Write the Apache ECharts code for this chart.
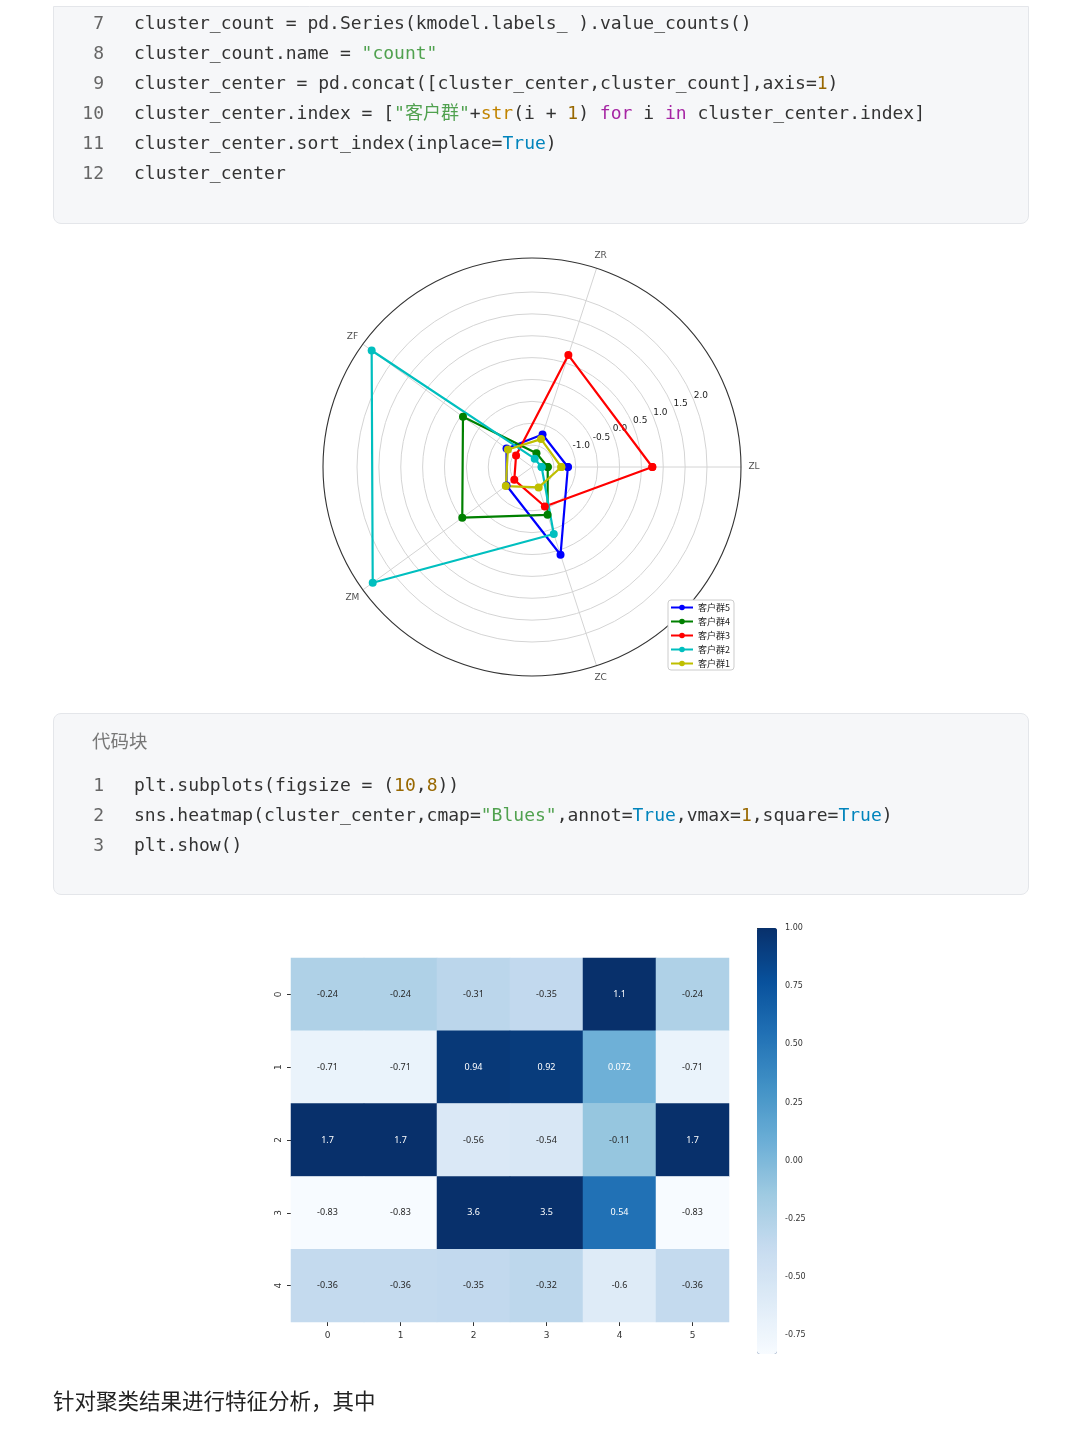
<!DOCTYPE html>
<html>
<head>
<meta charset="utf-8">
<script src="https://cdn.jsdelivr.net/npm/echarts@6/dist/echarts.min.js"></script>
<style>
  html, body { margin: 0; padding: 0; background: #fff; }
  body { width: 1080px; height: 1440px; position: relative; overflow: hidden; }
  #chart { position: absolute; left: 0; top: 0; width: 1080px; height: 1440px; }
  .code { position: absolute; left: 53px; width: 976px; background: #f6f7f9; border: 1px solid #e4e6ea; box-sizing: border-box; }
  #code1 { top: 6px; height: 218px; border-radius: 0 0 8px 8px; }
  #code2 { top: 713px; height: 182px; border-radius: 8px; }
  .title { position: absolute; left: 38px; top: 12px; font: 18.5px "Noto Sans CJK SC", sans-serif; color: #777; line-height: 28px; }
  .ln { position: absolute; height: 30px; line-height: 30px; font: 18px "DejaVu Sans Mono", monospace; white-space: pre; color: #333; }
  .num { left: 0; width: 50px; text-align: right; color: #666; }
  .src { left: 80px; }
  .s { color: #50a14f; } .n { color: #986801; } .k { color: #a626a4; } .b { color: #0184bc; } .f { color: #c18401; }
  .cjk { font-family: "Noto Sans CJK SC", sans-serif; line-height: 0; }
  #para { position: absolute; left: 53px; top: 1385px; font: 21.5px "Noto Sans CJK SC", sans-serif; color: #222; line-height: 30px; }
</style>
</head>
<body>
<div id="chart"></div>
<div class="code" id="code1">
  <div class="ln num" style="top:5px">7</div><div class="ln src" style="top:5px">cluster_count = pd.Series(kmodel.labels_ ).value_counts()</div>
  <div class="ln num" style="top:35px">8</div><div class="ln src" style="top:35px">cluster_count.name = <span class="s">"count"</span></div>
  <div class="ln num" style="top:65px">9</div><div class="ln src" style="top:65px">cluster_center = pd.concat([cluster_center,cluster_count],axis=<span class="n">1</span>)</div>
  <div class="ln num" style="top:95px">10</div><div class="ln src" style="top:95px">cluster_center.index = [<span class="s">"<span class="cjk">客户群</span>"</span>+<span class="f">str</span>(i + <span class="n">1</span>) <span class="k">for</span> i <span class="k">in</span> cluster_center.index]</div>
  <div class="ln num" style="top:125px">11</div><div class="ln src" style="top:125px">cluster_center.sort_index(inplace=<span class="b">True</span>)</div>
  <div class="ln num" style="top:155px">12</div><div class="ln src" style="top:155px">cluster_center</div>
</div>
<div class="code" id="code2">
  <div class="title">代码块</div>
  <div class="ln num" style="top:60px">1</div><div class="ln src" style="top:60px">plt.subplots(figsize = (<span class="n">10</span>,<span class="n">8</span>))</div>
  <div class="ln num" style="top:90px">2</div><div class="ln src" style="top:90px">sns.heatmap(cluster_center,cmap=<span class="s">"Blues"</span>,annot=<span class="b">True</span>,vmax=<span class="n">1</span>,square=<span class="b">True</span>)</div>
  <div class="ln num" style="top:120px">3</div><div class="ln src" style="top:120px">plt.show()</div>
</div>
<div id="para">针对聚类结果进行特征分析，其中</div>
<script>
// ---------- Radar (polar) data ----------
const radarAxes = ['ZL', 'ZR', 'ZF', 'ZM', 'ZC'];
const radarNames = ['客户群5', '客户群4', '客户群3', '客户群2', '客户群1'];
const radarColors = ['#0000ff', '#008000', '#ff0000', '#00bfbf', '#bfbf00'];
const group5 = [-1.18, -1.22, -1.28, -1.28, 0.11];
const group4 = [-1.64, -1.67, -0.05, -0.03, -0.85];
const group3 = [0.75, 0.69, -1.55, -1.50, -1.05];
const group2 = [-1.78, -1.80, 2.53, 2.50, -0.39];
const group1 = [-1.33, -1.33, -1.32, -1.26, -1.51];
const radarGroups = [group5, group4, group3, group2, group1];
const radialLabelMin = -1.0;

// ---------- Heatmap data ----------
const hmCols = ['0', '1', '2', '3', '4', '5'];
const hmRows = ['0', '1', '2', '3', '4'];
const hmRow0 = [-0.24, -0.24, -0.31, -0.35, 1.1, -0.24];
const hmRow1 = [-0.71, -0.71, 0.94, 0.92, 0.072, -0.71];
const hmRow2 = [1.7, 1.7, -0.56, -0.54, -0.11, 1.7];
const hmRow3 = [-0.83, -0.83, 3.6, 3.5, 0.54, -0.83];
const hmRow4 = [-0.36, -0.36, -0.35, -0.32, -0.6, -0.36];
const hmTable = [hmRow0, hmRow1, hmRow2, hmRow3, hmRow4];
const vMin = -0.83, vMax = 1.0;
const colorbarTicks = [-0.75, -0.5, -0.25, 0, 0.25, 0.5, 0.75, 1.0];
const blues = ['#f7fbff', '#deebf7', '#c6dbef', '#9ecae1', '#6baed6', '#4292c6', '#2171b5', '#08519c', '#08306b'];

// polar scale
const rMin = -2.0, rMax = 2.777, outerPx = 209;
const step = 360 / radarAxes.length;
const labelR = rMax + 13 * (rMax - rMin) / outerPx; // theta labels sit just outside the frame

const lineSeries = radarGroups.map((g, i) => {
  const pts = g.map((v, k) => [v, k * step]);
  pts.push([g[0], 0]);
  return {
    name: radarNames[i], type: 'line', coordinateSystem: 'polar', polarIndex: 0,
    data: pts, symbol: 'circle', symbolSize: 8, showSymbol: true,
    color: radarColors[i], lineStyle: { width: 2.2, color: radarColors[i] },
    itemStyle: { color: radarColors[i] }, animation: false, clip: false,
    emphasis: { disabled: true }
  };
});

const thetaLabelSeries = {
  type: 'scatter', coordinateSystem: 'polar', polarIndex: 0, silent: true, clip: false,
  symbolSize: 0, data: radarAxes.map((n, k) => ({ value: [labelR, k * step], name: n })),
  label: { show: true, position: 'inside', formatter: p => p.name, fontSize: 9, color: '#222' },
  z: 1
};

const hmData = [];
hmTable.forEach((row, r) => row.forEach((v, c) => {
  const t = (v - vMin) / (vMax - vMin);
  hmData.push({ value: [c, r, v], label: { color: t >= 0.45 ? '#ffffff' : '#262626' } });
}));

const chart = echarts.init(document.getElementById('chart'), null, { renderer: 'canvas' });
chart.setOption({
  animation: false,
  textStyle: { fontFamily: 'DejaVu Sans' },
  polar: [
    { center: [532, 467], radius: outerPx },
    { center: [532, 467], radius: 175 }
  ],
  angleAxis: [
    {
      polarIndex: 0, type: 'value', min: 0, max: 360, interval: step,
      startAngle: 0, clockwise: false,
      axisLine: { show: true, lineStyle: { color: '#333', width: 1.1 } },
      axisTick: { show: false },
      splitLine: { show: true, lineStyle: { color: '#d4d4d4', width: 1 } },
      axisLabel: { show: false }
    },
    {
      polarIndex: 1, type: 'value', min: 0, max: 360, startAngle: 22.5, clockwise: false, show: false
    }
  ],
  radiusAxis: [
    { polarIndex: 0, type: 'value', min: rMin, max: rMax, show: false },
    {
      polarIndex: 1, type: 'value', min: rMin, max: 2.0, interval: 0.5,
      axisLine: { show: false }, axisTick: { show: false },
      splitLine: { show: true, lineStyle: { color: '#d4d4d4', width: 1 } },
      axisLabel: {
        show: true, margin: 0, fontSize: 9, color: '#222', align: 'left', verticalAlign: 'bottom',
        formatter: v => (v >= radialLabelMin - 1e-9 ? v.toFixed(1) : '')
      }
    }
  ],
  legend: {
    data: radarNames, orient: 'vertical', left: 668, top: 600,
    itemWidth: 22, itemHeight: 7, itemGap: 5, padding: [3, 4, 2, 2],
    backgroundColor: '#fff', borderColor: '#cccccc', borderWidth: 1, borderRadius: 3,
    textStyle: { fontSize: 9, color: '#222', fontFamily: 'Noto Sans CJK SC' },
    selectedMode: false
  },
  grid: [
    { left: 291, top: 958, width: 438, height: 364 },
    { left: 757, top: 928, width: 20, height: 426 }
  ],
  xAxis: [
    {
      gridIndex: 0, type: 'category', data: hmCols,
      axisLine: { show: false }, splitLine: { show: false },
      axisTick: { show: true, alignWithLabel: true, length: 4, lineStyle: { color: '#333' } },
      axisLabel: { fontSize: 9, color: '#333', margin: 9 }
    },
    { gridIndex: 1, type: 'value', show: false, min: 0, max: 1 }
  ],
  yAxis: [
    {
      gridIndex: 0, type: 'category', data: hmRows, inverse: true,
      axisLine: { show: false }, splitLine: { show: false },
      axisTick: { show: true, alignWithLabel: true, length: 4, lineStyle: { color: '#333' } },
      axisLabel: { fontSize: 9, color: '#333', margin: 8, rotate: 90 }
    },
    {
      gridIndex: 1, type: 'value', min: vMin, max: vMax, position: 'right',
      axisLine: { show: false }, splitLine: { show: false },
      axisTick: { show: true, length: 4, lineStyle: { color: '#333' }, customValues: colorbarTicks },
      axisLabel: { fontSize: 8, color: '#333', margin: 8, customValues: colorbarTicks, formatter: v => v.toFixed(2) }
    }
  ],
  visualMap: {
    type: 'continuous', seriesIndex: lineSeries.length + 1, dimension: 2,
    min: vMin, max: vMax, calculable: false, realtime: false, hoverLink: false,
    left: 757, top: 928, itemWidth: 20, itemHeight: 426, padding: 0,
    inRange: { color: blues }, outOfRange: { color: ['#08306b'] },
    text: null, showLabel: false
  },
  series: lineSeries.concat([thetaLabelSeries, {
    type: 'heatmap', xAxisIndex: 0, yAxisIndex: 0, data: hmData,
    label: { show: true, fontSize: 9, fontFamily: 'Noto Sans', formatter: p => String(p.value[2]) },
    itemStyle: { borderWidth: 0 },
    emphasis: { disabled: true }
  }])
});
</script>
</body>
</html>
